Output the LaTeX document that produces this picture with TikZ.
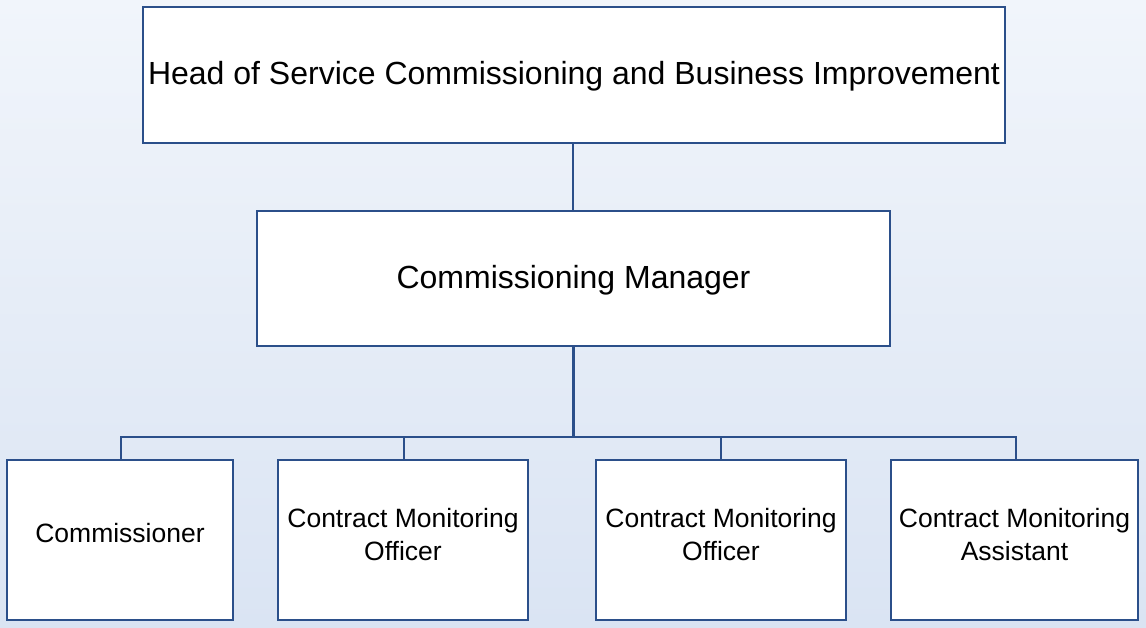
\documentclass[tikz,border=0pt]{standalone}
\usepackage{fontspec}
\setmainfont{Liberation Sans}
\definecolor{bgtop}{HTML}{F1F5FB}
\definecolor{bgbot}{HTML}{DAE4F3}
\definecolor{edge}{HTML}{2B4F8A}
\begin{document}
\begin{tikzpicture}[x=1pt,y=-1pt,
  box/.style={draw=edge,line width=1.4pt,fill=white,inner sep=0pt},
  txt/.style={inner sep=0pt,align=center},
  big/.style={font=\fontsize{32}{38}\selectfont},
  small/.style={font=\fontsize{26.5}{33}\selectfont},
  link/.style={draw=edge,line width=1.1pt},
  thick link/.style={draw=edge,line width=3pt}]
\shade[top color=bgtop,bottom color=bgbot] (0,0) rectangle (1146,627);
\useasboundingbox (0,0) rectangle (1146,627);
\node[box,minimum width=862pt,minimum height=136pt] (head) at (574,75) {};
\node[txt,big] (headt) at (574,76) {Head of Service Commissioning and Business Improvement};
\node[box,minimum width=633pt,minimum height=135pt] (mgr) at (573.5,278.5) {};
\node[txt,big] (mgrt) at (573.5,280) {Commissioning Manager};
\node[box,minimum width=226pt,minimum height=160pt] (c1) at (120,540) {};
\node[box,minimum width=250pt,minimum height=160pt] (c2) at (403,540) {};
\node[box,minimum width=250pt,minimum height=160pt] (c3) at (721,540) {};
\node[box,minimum width=247pt,minimum height=160pt] (c4) at (1014.5,540) {};
\node[txt,small] (t1) at (120,533) {Commissioner};
\node[txt,small] (t2) at (403,535) {Contract Monitoring\\Officer};
\node[txt,small] (t3) at (721,535) {Contract Monitoring\\Officer};
\node[txt,small] (t4) at (1014.5,535) {Contract Monitoring\\Assistant};
\coordinate (bus) at (573,437);
\draw[link] (head.south -| bus) -- (mgr.north -| bus);
\draw[thick link] (mgr.south -| bus) -- (bus);
\draw[link] (c1.north -| 121,0) |- (bus) -| (c4.north -| 1016,0);
\draw[link] (c2.north -| 404,0) -- (404,437);
\draw[link] (c3.north -| 721,0) -- (721,437);
\end{tikzpicture}
\end{document}
